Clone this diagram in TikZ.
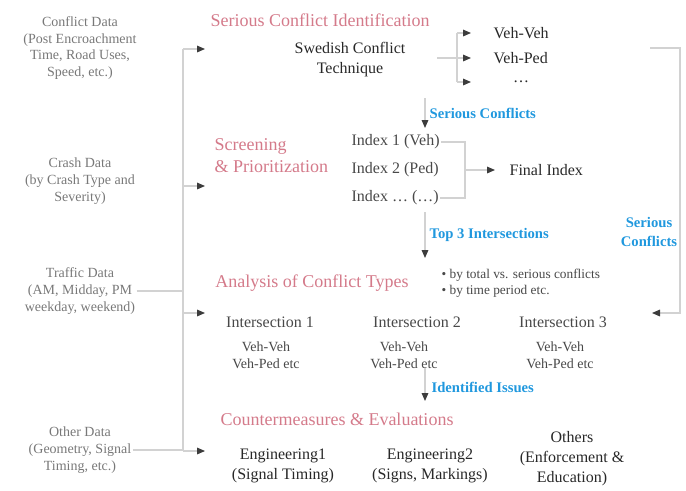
\documentclass[tikz,border=0pt]{standalone}
\usepackage{fontspec}
\setmainfont{Liberation Serif}
\usetikzlibrary{arrows.meta}

\definecolor{titlepink}{RGB}{212,122,138}
\definecolor{flowblue}{RGB}{32,152,222}
\definecolor{textdark}{RGB}{40,40,40}
\definecolor{textgray}{RGB}{120,120,120}
\definecolor{linegray}{RGB}{210,210,210}
\definecolor{tipgray}{RGB}{60,60,60}

\begin{document}
\begin{tikzpicture}[x = 0.75pt, y = -0.75pt,
                        datatext/.style = {align = center, text = textgray, inner sep = 1pt, font = \fontsize{10.5}{12.5}\selectfont},
                        stagetitle/.style = {text = titlepink, inner sep = 1pt, font = \fontsize{13.5}{16.5}\selectfont},
                        item/.style = {align = center, text = textdark, inner sep = 1pt, font = \fontsize{12}{15}\selectfont},
                        subitem/.style = {align = center, text = textdark!85, inner sep = 1pt, font = \fontsize{10.5}{12.75}\selectfont},
                        flowlabel/.style = {text = flowblue, inner sep = 1pt, font = \bfseries\fontsize{11}{14}\selectfont},
                        link/.style = {draw = linegray, line width = 0.8pt},
                        feed/.style = {link, -{Triangle[length = 6pt, width = 5pt, color = tipgray]}}]
      \useasboundingbox (0, 0) rectangle (686, 490);
      % data sources
      \node [datatext] (d1) at (80, 48){Conflict Data\\(Post Encroachment\\Time, Road Uses,\\Speed, etc.)};
      \node [datatext] (d2) at (80, 181){Crash Data\\(by Crash Type and\\Severity)};
      \node [datatext] (d3) at (80, 291){Traffic Data\\(AM, Midday, PM\\weekday, weekend)};
      \node [datatext] (d4) at (80, 450){Other Data\\(Geometry, Signal\\Timing, etc.)};
      \coordinate (b1) at (183, 49);
      \coordinate (b2) at (183, 186);
      \coordinate (b3) at (183, 313);
      \coordinate (b4) at (183, 451);
      \coordinate (g1) at (205, 49);
      \coordinate (g2) at (205, 186);
      \coordinate (g3) at (205, 313);
      \coordinate (g4) at (205, 451);
      \draw [link] (b1) -- (b4);
      \draw [link] (d3.east) -- (d3.east -| b1);
      \draw [link] (d4.east) -- (d4.east -| b4);
      \draw [feed] (b1) -- (g1);
      \draw [feed] (b2) -- (g2);
      \draw [feed] (b3) -- (g3);
      \draw [feed] (b4) -- (g4);
      % serious conflict identification
      \node [stagetitle] (t1) at (320, 20){Serious Conflict Identification};
      \node [item] (s1) at (350, 60){Swedish Conflict\\Technique};
      \coordinate (k1) at (457, 33);
      \coordinate (k2) at (457, 58);
      \coordinate (k3) at (457, 82);
      \coordinate (p1) at (471, 33);
      \coordinate (p2) at (471, 58);
      \coordinate (p3) at (471, 82);
      \node [item, anchor = west] (o1) at (492, 33){Veh-Veh};
      \node [item, anchor = west] (o2) at (492, 58){Veh-Ped};
      \node [item] (o3) at (521, 82){\dots};
      \draw [link] (437, 58) -- (k2);
      \draw [link] (k1) -- (k3);
      \draw [feed] (k1) -- (p1);
      \draw [feed] (k2) -- (p2);
      \draw [feed] (k3) -- (p3);
      % feedback of serious conflicts
      \coordinate (f1) at (650, 48);
      \coordinate (f2) at (680, 48);
      \coordinate (f3) at (652, 313);
      \draw [feed] (f1) -- (f2) |- (f3);
      \node [flowlabel, align = center] (l4) at (649, 232){Serious\\Conflicts};
      % screening and prioritization
      \node [stagetitle, align = left, anchor = west] (t2) at (213, 156){Screening\\\& Prioritization};
      \node [item, text = textdark!85, anchor = west] (i1) at (350, 142){Index 1 (Veh)};
      \node [item, text = textdark!85, anchor = west] (i2) at (350, 170){Index 2 (Ped)};
      \node [item, text = textdark!85, anchor = west] (i3) at (350, 198){Index \dots\ (\dots)};
      \coordinate (k4) at (465, 142);
      \coordinate (k5) at (465, 170);
      \coordinate (k6) at (465, 198);
      \coordinate (p4) at (495, 170);
      \node [item, anchor = west] (fi) at (508, 170){Final Index};
      \draw [link] (i1.east) -- (k4) -- (k6) -- (i3.east);
      \draw [feed] (k5) -- (p4);
      \coordinate (c1) at (425, 98);
      \coordinate (c2) at (425, 128);
      \draw [feed] (c1) -- (c2);
      \node [flowlabel, anchor = west] (l1) at (428, 113){Serious Conflicts};
      \coordinate (c3) at (425, 212);
      \coordinate (c4) at (425, 258);
      \draw [feed] (c3) -- (c4);
      \node [flowlabel, anchor = west] (l2) at (428, 235){Top 3 Intersections};
      % analysis of conflict types
      \node [stagetitle] (t3) at (312, 283){Analysis of Conflict Types};
      \node [subitem, align = left, anchor = west, font = \fontsize{10}{12}\selectfont] (n0) at (440, 283){\textbullet\ by total vs. serious conflicts\\\textbullet\ by time period etc.};
      \node [item, text = textdark!85] (n1) at (270, 322){Intersection 1};
      \node [item, text = textdark!85] (n2) at (417, 322){Intersection 2};
      \node [item, text = textdark!85] (n3) at (563, 322){Intersection 3};
      \node [subitem] (m1) at (266, 355){Veh-Veh\\Veh-Ped etc};
      \node [subitem] (m2) at (404, 355){Veh-Veh\\Veh-Ped etc};
      \node [subitem] (m3) at (560, 355){Veh-Veh\\Veh-Ped etc};
      \coordinate (c5) at (425, 368);
      \coordinate (c6) at (425, 401);
      \draw [feed] (c5) -- (c6);
      \node [flowlabel, anchor = west] (l3) at (430, 387){Identified Issues};
      % countermeasures and evaluations
      \node [stagetitle] (t4) at (337, 419){Countermeasures \& Evaluations};
      \node [item] (e1) at (283, 466){Engineering1\\(Signal Timing)};
      \node [item] (e2) at (430, 466){Engineering2\\(Signs, Markings)};
      \node [item] (e3) at (572, 459){Others\\(Enforcement \&\\Education)};
    \end{tikzpicture}
\end{document}
